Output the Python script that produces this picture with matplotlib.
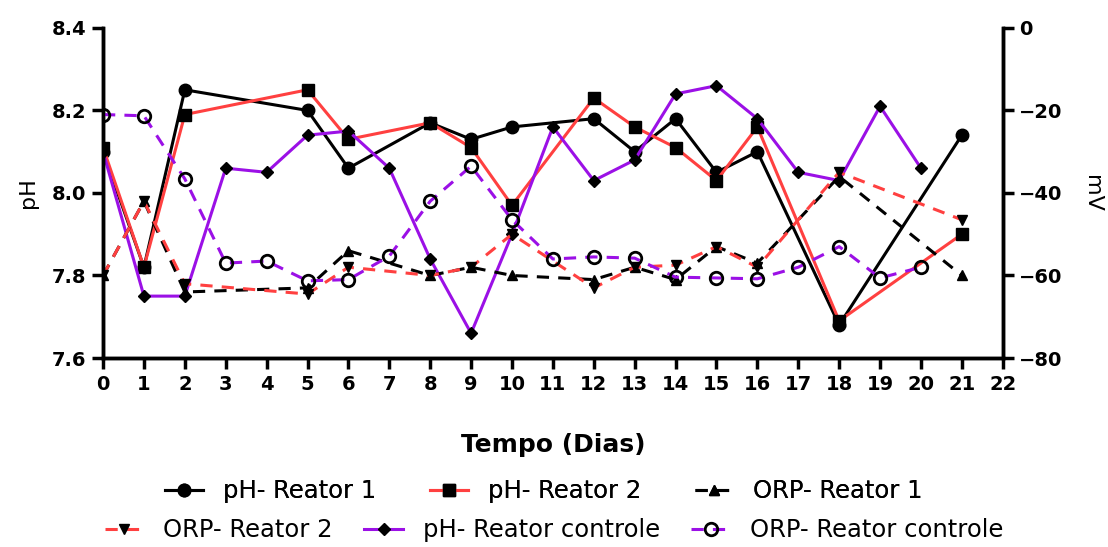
import numpy as np
import matplotlib.pyplot as plt

plt.rcParams['font.family'] = ['DejaVu Sans']

# pH data
dias_r1 = [0, 1, 2, 5, 6, 8, 9, 10, 12, 13, 14, 15, 16, 18, 21]
ph_r1 = [8.10, 7.82, 8.25, 8.20, 8.06, 8.17, 8.13, 8.16, 8.18, 8.10, 8.18, 8.05, 8.10, 7.68, 8.14]
ph_r2 = [8.11, 7.82, 8.19, 8.25, 8.13, 8.17, 8.11, 7.97, 8.23, 8.16, 8.11, 8.03, 8.16, 7.69, 7.90]

dias_ctrl = list(range(0, 21))
ph_ctrl = [8.10, 7.75, 7.75, 8.06, 8.05, 8.14, 8.15, 8.06, 7.84, 7.66, 7.90,
           8.16, 8.03, 8.08, 8.24, 8.26, 8.18, 8.05, 8.03, 8.21, 8.06]

# ORP data (mV)
orp_r1 = [-60, -42, -64, -63, -54, -60, -58, -60, -61, -58, -61, -53, -57, -36, -60]
orp_r2 = [-60, -42, -62, -64.5, -58, -60, -58, -50, -63, -58, -57.5, -53, -58, -35, -46.5]
orp_ctrl = [-21, -21.3, -36.6, -57, -56.5, -61.3, -61, -55.3, -42, -33.5, -46.5,
            -56, -55.5, -55.8, -60.4, -60.6, -60.8, -58, -53, -60.6, -58]

fig = plt.figure(figsize=(11.08, 5.47), dpi=100)
ax = fig.add_axes([0.093, 0.3455, 0.812, 0.6035])
ax2 = ax.twinx()

purple = '#9B10E6'
red = '#FF4040'

l1, = ax.plot(dias_r1, ph_r1, '-o', color='black', lw=2.2, ms=9, label='pH- Reator 1')
l2, = ax.plot(dias_r1, ph_r2, '-s', color=red, mfc='black', mec='black', lw=2.2, ms=9, label='pH- Reator 2')
l5, = ax.plot(dias_ctrl, ph_ctrl, '-D', color=purple, mfc='black', mec='black', lw=2.2, ms=6, label='pH- Reator controle')

l3, = ax2.plot(dias_r1, orp_r1, '--^', color='black', lw=2.2, ms=7, dashes=(4, 3), label='ORP- Reator 1')
l4, = ax2.plot(dias_r1, orp_r2, '--v', color=red, mfc='black', mec='black', lw=2.2, ms=7, dashes=(4, 3), label='ORP- Reator 2')
l6, = ax2.plot(dias_ctrl, orp_ctrl, '--o', color=purple, mfc='none', mec='black', mew=2, lw=2.2, ms=9, dashes=(4, 3), label='ORP- Reator controle')

ax.set_xlim(0, 22)
ax.set_ylim(7.6, 8.4)
ax2.set_ylim(-80, 0)
ax.set_xticks(range(0, 23))
ax.set_yticks([7.6, 7.8, 8.0, 8.2, 8.4])
ax2.set_yticks([0, -20, -40, -60, -80])

for a in (ax, ax2):
    for s in a.spines.values():
        s.set_linewidth(2.5)
    a.tick_params(width=2.5, length=8, labelsize=14, pad=4)
ax.spines['top'].set_visible(False)
ax2.spines['top'].set_visible(False)

for lab in ax.get_xticklabels() + ax.get_yticklabels() + ax2.get_yticklabels():
    lab.set_fontweight('bold')

ax.set_ylabel('pH', fontsize=16, labelpad=10)
ax2.set_ylabel('mV', fontsize=16, rotation=270, labelpad=28)
ax.set_xlabel('Tempo (Dias)', fontsize=18, fontweight='bold', labelpad=28)

# two legend rows, each centred on its own
leg1 = fig.legend(handles=[l1, l2, l3], ncol=3, loc='center', bbox_to_anchor=(0.4905, 0.102),
                  frameon=False, fontsize=17.5, handlelength=1.6, handletextpad=0.8,
                  columnspacing=2.2, borderpad=0)
fig.add_artist(leg1)
fig.legend(handles=[l4, l5, l6], ncol=3, loc='center', bbox_to_anchor=(0.5, 0.031),
           frameon=False, fontsize=17.5, handlelength=1.6, handletextpad=0.8,
           columnspacing=1.3, borderpad=0)

fig.savefig('out.png', dpi=100)
